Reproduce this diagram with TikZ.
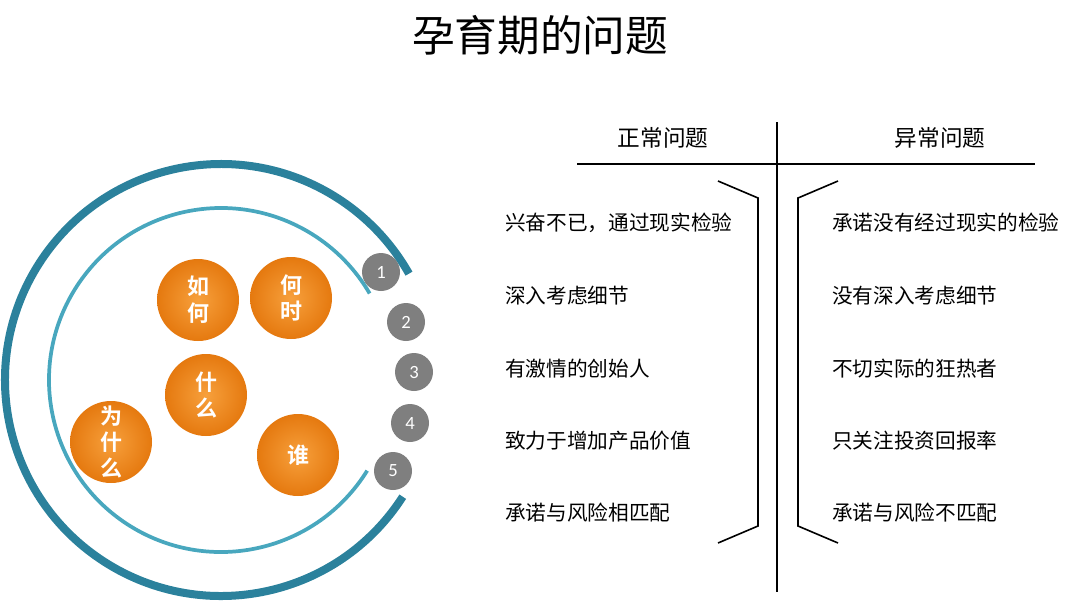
\documentclass[tikz,border=0pt]{standalone}
\usepackage{fontspec}
\setsansfont{Carlito}
\newfontfamily\cjk{Noto Sans CJK SC}
\newfontfamily\cjkbold{Noto Sans CJK SC Bold}

\definecolor{ringdark}{HTML}{2B819C}
\definecolor{ringlight}{HTML}{48A7BE}
\definecolor{numgray}{HTML}{7F7F7F}
\definecolor{orangein}{HTML}{F7A03C}
\definecolor{orangeout}{HTML}{E5790F}

\tikzset{
  ball/.style={circle, minimum size=61.5pt, inner sep=0pt, shading=radial,
    inner color=orangein, outer color=orangeout, text=white,
    font=\cjkbold\fontsize{16.5}{20}\selectfont, align=center},
  num/.style={circle, minimum size=28.5pt, inner sep=0pt, fill=numgray,
    text=white, font=\sffamily\fontsize{14}{14}\selectfont},
  head/.style={font=\cjk\fontsize{17}{17}\selectfont},
  item/.style={anchor=west, inner sep=0pt, font=\cjk\fontsize{15.5}{15.5}\selectfont}
}

\begin{document}
\begin{tikzpicture}[x=0.75pt,y=-0.75pt]
\useasboundingbox (0,0) rectangle (1080,611);

% title
\node (title) at (540,35) {\cjk\fontsize{32}{32}\selectfont 孕育期的问题};

% rings
\coordinate (hub) at (221,380);
\draw[ringdark, line width=6pt] (hub) ++(32.7:216) arc[start angle=32.7, end angle=330.5, radius=216];
\draw[ringlight, line width=2.8pt] (hub) ++(31.8:172) arc[start angle=31.8, end angle=329.8, radius=172];

% balls
\node[ball] (how)  at (198,300) {如\\何};
\node[ball] (when) at (291,298) {何\\时};
\node[ball] (what) at (206,395) {什\\么};
\node[ball, font=\cjkbold\fontsize{16.5}{19.5}\selectfont] (why) at (111,442) {为\\什\\么};
\node[ball] (who)  at (298,455) {谁};

% numbers
\node[num] (n1) at (381,272) {1};
\node[num] (n2) at (406,322) {2};
\node[num] (n3) at (414,372) {3};
\node[num] (n4) at (410,423) {4};
\node[num] (n5) at (393,471) {5};

% table
\coordinate (vtop) at (777,122);
\coordinate (vbot) at (777,592);
\coordinate (hleft) at (577,164);
\coordinate (hright) at (1035,164);
\begin{scope}[line width=1.5pt]
\draw (vtop) -- (vbot);
\draw (hleft) -- (hright);
\end{scope}

\begin{scope}[line width=1.2pt]
\draw (718,181) -- (758,198) -- (758,526) -- (718,543);
\draw (838,181) -- (798,198) -- (798,526) -- (838,543);
\end{scope}

\node[head] (normal) at (663,138) {正常问题};
\node[head] (abnormal) at (940,138) {异常问题};

\node[item] (l1) at (505,223) {兴奋不已，通过现实检验};
\node[item] (l2) at (505,296) {深入考虑细节};
\node[item] (l3) at (505,369) {有激情的创始人};
\node[item] (l4) at (505,441) {致力于增加产品价值};
\node[item] (l5) at (505,513) {承诺与风险相匹配};

\node[item] (r1) at (832,223) {承诺没有经过现实的检验};
\node[item] (r2) at (832,296) {没有深入考虑细节};
\node[item] (r3) at (832,369) {不切实际的狂热者};
\node[item] (r4) at (832,441) {只关注投资回报率};
\node[item] (r5) at (832,513) {承诺与风险不匹配};

\end{tikzpicture}
\end{document}
